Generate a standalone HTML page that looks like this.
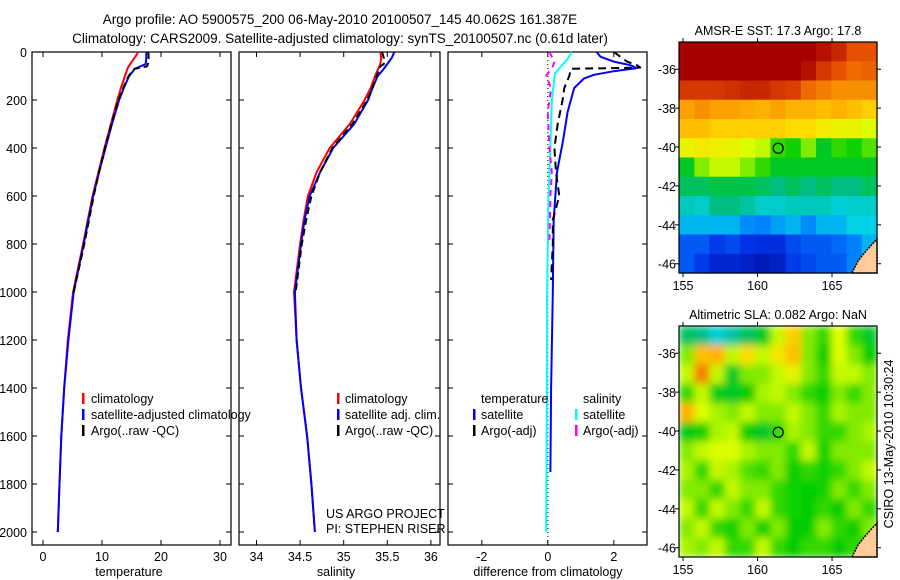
<!DOCTYPE html>
<html><head><meta charset="utf-8">
<style>
html,body{margin:0;padding:0;background:#fff;}
svg{display:block;font-family:"Liberation Sans",sans-serif;}
text{fill:#000;}
</style></head>
<body>
<svg id="fig" width="900" height="580" viewBox="0 0 900 580" xmlns="http://www.w3.org/2000/svg">
<text x="340" y="24" font-size="13.5" text-anchor="middle">Argo profile: AO 5900575_200 06-May-2010 20100507_145 40.062S 161.387E</text>
<text x="340" y="43" font-size="13.5" text-anchor="middle">Climatology: CARS2009. Satellite-adjusted climatology: synTS_20100507.nc (0.61d later)</text>
<defs>
<filter id="blur" filterUnits="userSpaceOnUse" x="679" y="326" width="198" height="231">
<feGaussianBlur stdDeviation="4" edgeMode="duplicate"/>
</filter>
</defs>
<g id="plots"></g>
<text x="0" y="0" font-size="12.5" text-anchor="middle" transform="translate(893,444) rotate(-90)">CSIRO 13-May-2010 10:30:24</text>
</svg>
<script>
// ---------- data ----------
const tDepths = [0,10,25,50,60,70,100,150,200,300,400,500,600,700,800,1000,1200,1400,1600,1800,2000];
const tempClim = [16.1,15.9,15.5,14.8,14.5,14.3,13.9,13.2,12.6,11.5,10.4,9.4,8.4,7.6,6.8,5.1,4.2,3.6,3.1,2.8,2.5];
const tempSat = [17.5,17.5,17.5,17.4,16.5,15.6,14.6,13.7,12.9,11.7,10.6,9.5,8.5,7.7,6.9,5.2,4.3,3.6,3.1,2.8,2.5];
const argoTDepths = [0,10,25,50,60,70,100,150,200,300,400,500,600,700,800,1000];
const tempArgo = [17.8,17.9,17.9,17.8,17.6,15.5,14.5,13.6,12.8,11.6,10.5,9.5,8.6,7.8,7.0,5.2];
const sDepths = [0,25,50,75,100,150,200,300,400,500,600,700,800,1000,1200,1400,1600,1800,2000];
const salClim = [35.42,35.43,35.42,35.39,35.36,35.31,35.24,35.07,34.84,34.69,34.59,34.54,34.50,34.43,34.46,34.51,34.58,34.63,34.67];
const salSat = [35.58,35.55,35.50,35.45,35.39,35.33,35.28,35.12,34.88,34.73,34.61,34.55,34.51,34.44,34.46,34.51,34.58,34.63,34.67];
const argoSDepths = [0,25,50,60,100,150,200,300,400,500,600,700,800,1000];
const salArgo = [35.44,35.46,35.46,35.42,35.38,35.33,35.27,35.10,34.87,34.73,34.63,34.57,34.52,34.45];
const dTSatDepths = [0,20,40,55,67,80,95,110,150,250,370,500,700,1000,1400,1750];
const dTSat = [1.48,1.6,2.0,2.5,2.7,2.0,1.4,1.1,0.8,0.6,0.46,0.28,0.18,0.15,0.1,0.08];
const dTArgoDepths = [0,20,40,55,65,70,100,150,200,300,400,500,600,700,800,950];
const dTArgo = [2.0,2.2,2.4,2.7,2.8,0.7,0.65,0.5,0.45,0.3,0.2,0.25,0.35,0.15,0.15,0.1];
const dSSatDepths = [0,30,60,88,200,400,600,1000,1500,2000];
const dSSat = [0.72,0.6,0.4,0.22,0.12,0.08,0.02,-0.02,-0.03,-0.05];
const dSArgoDepths = [0,40,60,100,150,250,400,500,600,800];
const dSArgo = [0.05,0.2,0.15,-0.05,0.1,0.0,0.05,0.12,0.08,0.05];
const depthTicks = [0,200,400,600,800,1000,1200,1400,1600,1800,2000];
const tempTicks = [0,10,20,30];
const salTicks = [34,34.5,35,35.5,36];
const salTickLabels = ["34","34.5","35","35.5","36"];
const diffTicks = [-2,0,2];
const lonTicks = [155,160,165];
const latTicks = [-36,-38,-40,-42,-44,-46];
const sstGrid = [
[.97,.97,.97,.97,.97,.97,.97,.97,.97,.93,.9,.85,.85],
[.97,.97,.97,.97,.97,.97,.97,.97,.93,.88,.85,.82,.83],
[.88,.88,.88,.89,.9,.9,.88,.87,.82,.8,.78,.78,.78],
[.76,.78,.76,.76,.75,.74,.76,.74,.74,.72,.74,.72,.7],
[.72,.72,.7,.7,.7,.7,.7,.68,.68,.66,.64,.64,.62],
[.64,.66,.65,.64,.62,.6,.5,.48,.55,.45,.5,.48,.52],
[.45,.55,.6,.6,.55,.5,.45,.45,.45,.45,.45,.45,.45],
[.42,.42,.43,.43,.43,.42,.4,.42,.4,.42,.4,.4,.42],
[.36,.35,.4,.4,.38,.35,.35,.36,.36,.36,.34,.35,.35],
[.3,.3,.3,.3,.26,.25,.28,.3,.26,.3,.3,.33,.33],
[.2,.2,.16,.18,.15,.14,.14,.18,.2,.2,.22,.25,.3],
[.2,.16,.12,.12,.1,.08,.1,.16,.18,.2,.2,.25,.3]];
const slaGrid = [
[.42,.4,.34,.38,.42,.45,.6,.7,.55,.5,.62,.5,.45],
[.55,.72,.74,.6,.68,.6,.66,.72,.55,.47,.62,.55,.47],
[.6,.8,.6,.45,.55,.55,.6,.64,.55,.5,.6,.6,.55],
[.5,.6,.46,.45,.47,.58,.6,.55,.5,.47,.55,.5,.55],
[.74,.62,.58,.55,.6,.55,.55,.6,.55,.5,.58,.55,.55],
[.46,.48,.58,.6,.47,.45,.5,.58,.55,.5,.5,.55,.58],
[.55,.6,.62,.62,.58,.55,.55,.5,.6,.48,.55,.55,.55],
[.58,.5,.6,.58,.52,.5,.55,.47,.5,.48,.5,.55,.6],
[.55,.55,.5,.6,.55,.55,.5,.48,.47,.48,.55,.5,.55],
[.6,.5,.6,.55,.5,.6,.5,.48,.47,.5,.47,.55,.5],
[.55,.6,.5,.48,.55,.48,.55,.47,.47,.55,.5,.47,.55],
[.58,.55,.6,.5,.5,.6,.5,.47,.5,.5,.47,.5,.5]];
const argoLon = 161.387;
const argoLat = -40.062;

// ---------- helpers ----------
const NS = "http://www.w3.org/2000/svg";
const root = document.getElementById("plots");
function mk(tag, attrs, parent) {
  const e = document.createElementNS(NS, tag);
  for (const k in attrs) e.setAttribute(k, attrs[k]);
  (parent || root).appendChild(e);
  return e;
}
const yD = d => 52 + d * 0.24;
const xT = t => 43 + t * 5.9;
const xS = s => 256.5 + (s - 34) * 87.2;
const xDf = v => 547.8 + v * 33;

function frame(x0, x1, name) {
  const r = mk("rect", {x:x0, y:52, width:x1-x0, height:493, fill:"none", stroke:"#000", "stroke-width":1.2});
  
  
  depthTicks.forEach(d => {
    mk("line", {x1:x0, x2:x0+5, y1:yD(d), y2:yD(d), stroke:"#000"});
    mk("line", {x1:x1, x2:x1-5, y1:yD(d), y2:yD(d), stroke:"#000"});
  });
}
function xTicks(vals, labels, fx, name) {
  vals.forEach((v, i) => {
    mk("line", {x1:fx(v), x2:fx(v), y1:545, y2:540, stroke:"#000"});
    mk("line", {x1:fx(v), x2:fx(v), y1:52, y2:57, stroke:"#000"});
    const t = mk("text", {x:fx(v), y:561, "font-size":12.5, "text-anchor":"middle"});
    t.textContent = labels[i];
    
    
  });
}
function line(depths, vals, fx, color, width, name, dash) {
  const pts = depths.map((d, i) => fx(vals[i]).toFixed(1) + "," + yD(d).toFixed(1)).join(" ");
  const a = {points:pts, fill:"none", stroke:color, "stroke-width":width, "stroke-linejoin":"round"};
  if (dash) a["stroke-dasharray"] = dash;
  const p = mk("polyline", a);
  
  
}
function label(x, y, s, name, size, anchor) {
  const t = mk("text", {x:x, y:y, "font-size":size || 12.5, "text-anchor":anchor || "start"});
  t.textContent = s;
  
  
}
function legendMark(x, y, color, name) {
  const r = mk("rect", {x:x, y:y-10, width:2.5, height:11, fill:color});
  
  
}

// ---------- panel 1: temperature ----------
frame(32, 231, "temperature-panel");
depthTicks.forEach(d => label(27, yD(d)+5, String(d), "depth-tick-label", 12.5, "end"));
xTicks(tempTicks, tempTicks.map(String), xT, "temperature");
line(tDepths, tempClim, xT, "#ff0000", 2, "temperature-climatology-line");
line(tDepths, tempSat, xT, "#0000ff", 2, "temperature-satellite-line");
line(argoTDepths, tempArgo, xT, "#000", 2, "temperature-argo-line", "7,4");
label(129, 576, "temperature", "temperature-axis-title", 12.5, "middle");
legendMark(82, 403, "#ff0000", "legend-climatology-marker");
label(91, 403, "climatology", "legend-climatology");
legendMark(82, 419, "#0000ff", "legend-satellite-marker");
label(91, 419, "satellite-adjusted climatology", "legend-satellite");
legendMark(82, 435, "#000", "legend-argo-marker");
label(91, 435, "Argo(..raw -QC)", "legend-argo");

// ---------- panel 2: salinity ----------
frame(239, 440, "salinity-panel");
xTicks(salTicks, salTickLabels, xS, "salinity");
line(sDepths, salClim, xS, "#ff0000", 2, "salinity-climatology-line");
line(sDepths, salSat, xS, "#0000ff", 2, "salinity-satellite-line");
line(argoSDepths, salArgo, xS, "#000", 2, "salinity-argo-line", "7,4");
label(336, 576, "salinity", "salinity-axis-title", 12.5, "middle");
legendMark(337, 403, "#ff0000", "legend-sal-climatology-marker");
label(345, 403, "climatology", "legend-sal-climatology");
legendMark(337, 419, "#0000ff", "legend-sal-satellite-marker");
label(345, 419, "satellite adj. clim.", "legend-sal-satellite");
legendMark(337, 435, "#000", "legend-sal-argo-marker");
label(345, 435, "Argo(..raw -QC)", "legend-sal-argo");
label(326, 518, "US ARGO PROJECT", "project-label");
label(326, 533, "PI: STEPHEN RISER", "pi-label");

// ---------- panel 3: difference ----------
frame(448, 647, "difference-panel");
xTicks(diffTicks, diffTicks.map(String), xDf, "difference");
mk("line", {x1:xDf(0), x2:xDf(0), y1:52, y2:545, stroke:"#000", "stroke-dasharray":"1,3"});
line(dSSatDepths, dSSat, xDf, "#00ffff", 2, "salinity-satellite-diff-line");
line(dSArgoDepths, dSArgo, xDf, "#ff00ff", 2, "salinity-argo-diff-line", "6,5");
line(dTSatDepths, dTSat, xDf, "#0000ff", 2, "temperature-satellite-diff-line");
line(dTArgoDepths, dTArgo, xDf, "#000", 2, "temperature-argo-diff-line", "8,5");
label(548, 576, "difference from climatology", "difference-axis-title", 12.5, "middle");
label(481, 403, "temperature", "legend-diff-temperature-heading");
legendMark(473, 419, "#0000ff", "legend-diff-tsat-marker");
label(481, 419, "satellite", "legend-diff-tsat");
legendMark(473, 435, "#000", "legend-diff-targo-marker");
label(481, 435, "Argo(-adj)", "legend-diff-targo");
label(583, 403, "salinity", "legend-diff-salinity-heading");
legendMark(575, 419, "#00ffff", "legend-diff-ssat-marker");
label(583, 419, "satellite", "legend-diff-ssat");
legendMark(575, 435, "#ff00ff", "legend-diff-sargo-marker");
label(583, 435, "Argo(-adj)", "legend-diff-sargo");

// ---------- maps ----------
const cmapStops = [0,.15,.25,.33,.4,.47,.55,.62,.68,.75,.85,.95,1];
const cmapColors = [[0,0,130],[0,50,230],[0,130,255],[0,210,230],[0,190,130],[0,205,0],[130,235,0],[220,255,0],[255,220,0],[255,170,0],[230,80,0],[170,0,0],[160,0,0]];
function cmap(v) {
  let i = 0;
  while (i < cmapStops.length - 2 && v > cmapStops[i+1]) i++;
  const t = Math.max(0, Math.min(1, (v - cmapStops[i]) / (cmapStops[i+1] - cmapStops[i])));
  const a = cmapColors[i], b = cmapColors[i+1];
  return "rgb(" + a.map((x, k) => Math.round(x + (b[k]-x)*t)).join(",") + ")";
}
function map(top, grid, title, name, blur) {
  const L = 679, R = 877, B = top + 231;
  const lonX = lon => L + (lon - 154.73) * 14.9;
  const latY = lat => top + (-34.6 - lat) * 19.45;
  label(778, top - 7, title, name + "-title", 12.5, "middle");
  const g = mk("g", blur ? {filter:"url(#blur)"} : {});
  
  
  const rows = grid.length, cols = grid[0].length;
  const cw = (R - L) / cols, ch = (B - top) / rows;
  grid.forEach((row, i) => row.forEach((v, j) => {
    const c = mk("rect", {x:L + j*cw, y:top + i*ch, width:cw + 0.6, height:ch + 0.6, fill:cmap(v)}, g);
    
    
  }));
  const land = mk("polygon", {points: "852," + B + " 858," + (B-12) + " 866," + (B-22) + " 877," + (B-34) + " 877," + B, fill:"#ffcc99", stroke:"#000", "stroke-width":1.5, "stroke-dasharray":"2,1"});
  
  
  const fr = mk("rect", {x:L, y:top, width:R-L, height:B-top, fill:"none", stroke:"#000", "stroke-width":1.2});
  
  
  lonTicks.forEach(lon => {
    mk("line", {x1:lonX(lon), x2:lonX(lon), y1:B, y2:B+4, stroke:"#000"});
    mk("line", {x1:lonX(lon), x2:lonX(lon), y1:top, y2:top-4, stroke:"#000"});
    label(lonX(lon), B + 17, String(lon), name + "-lon-label", 12.5, "middle");
  });
  latTicks.forEach(lat => {
    const y = latY(lat);
    if (y < top || y > B + 1) return;
    mk("line", {x1:L, x2:L-4, y1:y, y2:y, stroke:"#000"});
    mk("line", {x1:R, x2:R+4, y1:y, y2:y, stroke:"#000"});
    label(L - 3, y + 5, String(lat), name + "-lat-label", 12.5, "end");
  });
  const m = mk("circle", {cx:lonX(argoLon), cy:latY(argoLat), r:5, fill:"none", stroke:"#000", "stroke-width":1.2});
  
  
}
map(42, sstGrid, "AMSR-E SST: 17.3 Argo: 17.8", "sst-map", false);
map(326, slaGrid, "Altimetric SLA: 0.082 Argo: NaN", "sla-map", true);
</script>
</body></html>
